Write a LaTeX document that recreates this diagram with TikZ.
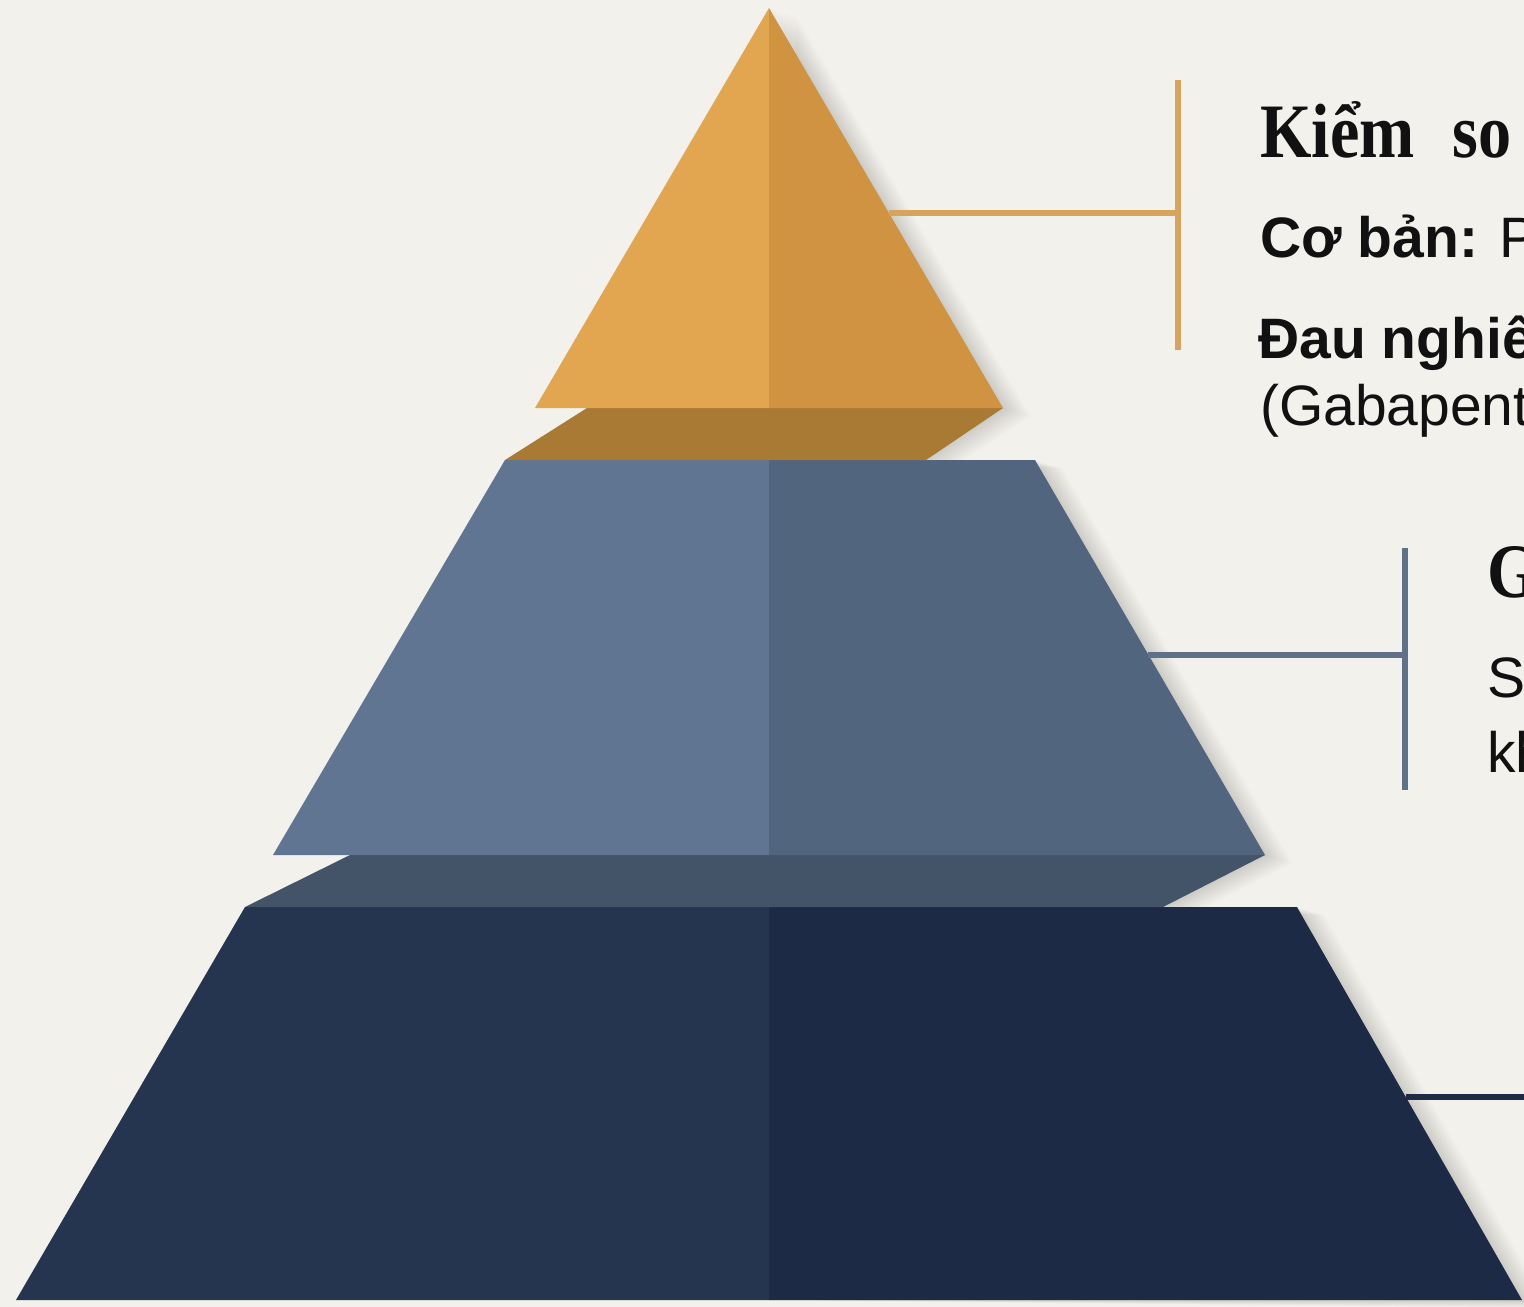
\documentclass[tikz,border=0pt]{standalone}
\usepackage{graphicx}
\usepackage{fontspec}
\setmainfont{Liberation Serif}
\setsansfont{Liberation Sans}
\definecolor{bg}{HTML}{F2F1EC}
\definecolor{orL}{HTML}{E2A550}
\definecolor{orR}{HTML}{CF9342}
\definecolor{orB}{HTML}{A97A33}
\definecolor{blL}{HTML}{5F7591}
\definecolor{blR}{HTML}{51657E}
\definecolor{blB}{HTML}{435368}
\definecolor{dkL}{HTML}{25344F}
\definecolor{dkR}{HTML}{1D2A45}
\definecolor{orLine}{HTML}{D8A45C}
\definecolor{blLine}{HTML}{5F7189}
\definecolor{dkLine}{HTML}{1F2B45}
\definecolor{ink}{HTML}{111111}
\tikzset{
  face/.style={draw=none},
  link/.style={line width=6pt},
  heading/.style={anchor=base west, inner sep=0pt, text=ink, font=\fontsize{77}{82}\selectfont\rmfamily\bfseries},
  body/.style={anchor=base west, inner sep=0pt, text=ink, font=\fontsize{57}{62}\selectfont\sffamily},
  shade/.style={fill=black, opacity=0.016, draw=none}
}
\begin{document}
\begin{tikzpicture}[x=1pt,y=-1pt]
\useasboundingbox (0,0) rectangle (1524,1307);
\clip (0,0) rectangle (1524,1307);
\fill[bg] (0,0) rectangle (1524,1307);
% soft shadows
\foreach \d in {3,6,...,27}{
  \fill[shade] ([xshift=\d pt,yshift=-0.3*\d pt]769,8) -- ([xshift=\d pt,yshift=-0.3*\d pt]1003,408) -- ([xshift=\d pt,yshift=-0.3*\d pt]926,459) -- ([xshift=\d pt]769,459) -- cycle;
  \fill[shade] ([xshift=\d pt,yshift=-0.3*\d pt]1035,460) -- ([xshift=\d pt,yshift=-0.3*\d pt]1265,855) -- ([xshift=\d pt,yshift=-0.3*\d pt]1163,907) -- ([xshift=\d pt]769,907) -- (769,460) -- cycle;
  \fill[shade] ([xshift=\d pt,yshift=-0.3*\d pt]1297,907) -- ([xshift=\d pt,yshift=-0.3*\d pt]1522,1300) -- (769,1300) -- (769,907) -- cycle;
}
% bottom tier
\fill[dkL] (245,907) -- (769,907) -- (769,1300) -- (16,1300) -- cycle;
\fill[dkR] (769,907) -- (1297,907) -- (1522,1300) -- (769,1300) -- cycle;
% middle band
\fill[blB] (350,855) -- (1265,855) -- (1163,907) -- (245,907) -- cycle;
% middle tier
\fill[blL] (505,460) -- (769,460) -- (769,855) -- (273,855) -- cycle;
\fill[blR] (769,460) -- (1035,460) -- (1265,855) -- (769,855) -- cycle;
% top band
\fill[orB] (587,408) -- (1003,408) -- (926,460) -- (505,460) -- cycle;
% top tier
\fill[orL] (769,8) -- (769,408) -- (535,408) -- cycle;
\fill[orR] (769,8) -- (1003,408) -- (769,408) -- cycle;
% connector coordinates
\coordinate (e1) at (889,213);
\coordinate (j1) at (1178,213);
\coordinate (b1t) at (1178,80);
\coordinate (b1b) at (1178,350);
\coordinate (e2) at (1148,655);
\coordinate (j2) at (1405,655);
\coordinate (b2t) at (1405,548);
\coordinate (b2b) at (1405,790);
\coordinate (e3) at (1406,1097);
\coordinate (j3) at (1540,1097);
\draw[link, orLine] (e1) -- (j1);
\draw[link, orLine] (b1t) -- (b1b);
\draw[link, blLine] (e2) -- (j2);
\draw[link, blLine] (b2t) -- (b2b);
\draw[link, dkLine] (e3) -- (j3);
% texts
\node[heading] (h1) at (1260,157) {\scalebox{0.86}[1]{Kiểm\hspace{44pt}so}};
\node[body] (c1) at (1260,257) {\textbf{Cơ bản:} Pa};
\node[body] (c2) at (1258,358) {\textbf{Đau nghiê}};
\node[body] (c3) at (1260,425) {(Gabapent};
\node[heading] (h2) at (1487,597) {\scalebox{0.86}[1]{G}};
\node[body] (s1) at (1487,697) {Su};
\node[body] (s2) at (1487,772) {kh};
\end{tikzpicture}
\end{document}
